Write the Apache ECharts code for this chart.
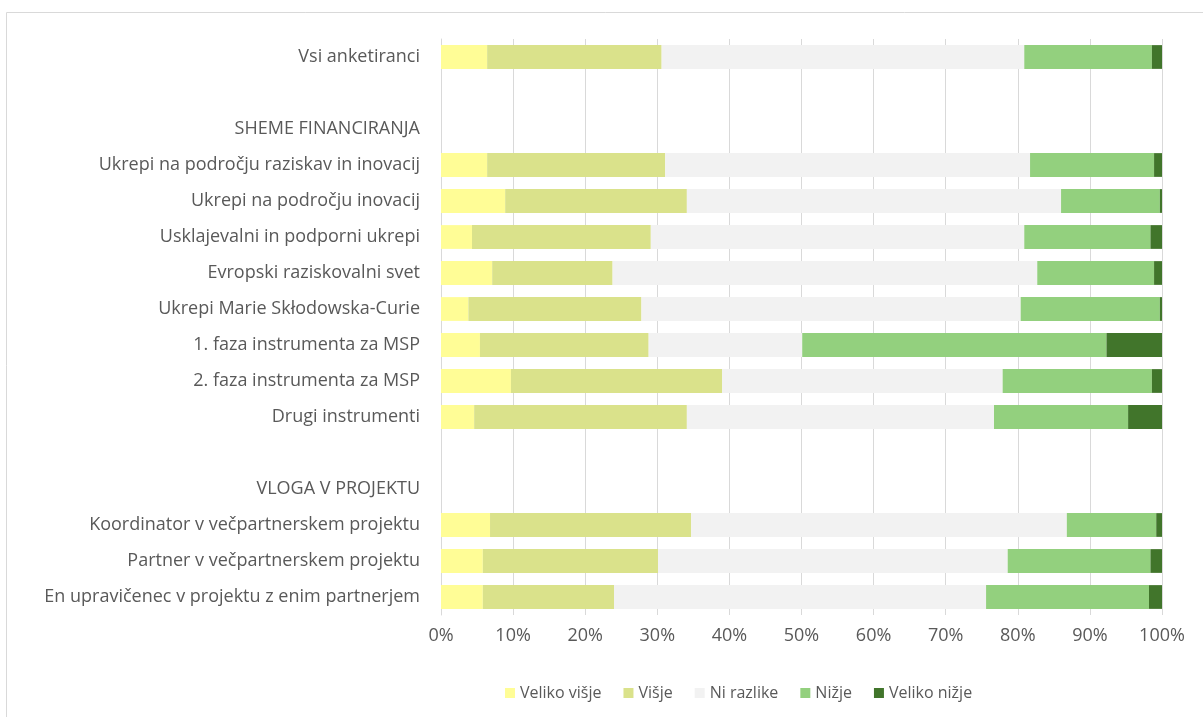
<!DOCTYPE html>
<html>
<head>
<meta charset="utf-8">
<script src="https://cdn.jsdelivr.net/npm/echarts@6/dist/echarts.min.js"></script>
<style>
html,body{margin:0;padding:0;background:#fff;}
#chart{width:1203px;height:717px;}
</style>
</head>
<body>
<div id="chart"></div>
<script>
var chart = echarts.init(document.getElementById('chart'));

// kategorije (prazne vrstice in naslovi skupin nimajo stolpcev)
var kategorije = ['Vsi anketiranci', ' ', 'SHEME FINANCIRANJA',
	'Ukrepi na področju raziskav in inovacij', 'Ukrepi na področju inovacij',
	'Usklajevalni in podporni ukrepi', 'Evropski raziskovalni svet',
	'Ukrepi Marie Skłodowska-Curie', '1. faza instrumenta za MSP',
	'2. faza instrumenta za MSP', 'Drugi instrumenti', '  ', 'VLOGA V PROJEKTU',
	'Koordinator v večpartnerskem projektu', 'Partner v večpartnerskem projektu',
	'En upravičenec v projektu z enim partnerjem'];

var velikoVisje = [6.4, null, null, 6.4, 8.9, 4.3, 7.1, 3.8, 5.4, 9.7, 4.6, null, null, 6.8, 5.8, 5.8];
var visje       = [24.2, null, null, 24.7, 25.2, 24.8, 16.7, 24.0, 23.4, 29.3, 29.5, null, null, 27.9, 24.3, 18.2];
var niRazlike   = [50.3, null, null, 50.6, 51.9, 51.8, 58.9, 52.6, 21.3, 38.9, 42.6, null, null, 52.1, 48.5, 51.6];
var nizje       = [17.7, null, null, 17.2, 13.7, 17.5, 16.2, 19.3, 42.2, 20.7, 18.6, null, null, 12.4, 19.8, 22.6];
var velikoNizje = [1.4, null, null, 1.1, 0.3, 1.6, 1.1, 0.3, 7.7, 1.4, 4.7, null, null, 0.8, 1.6, 1.8];

var imena = ['Veliko višje', 'Višje', 'Ni razlike', 'Nižje', 'Veliko nižje'];
var barve = ['#FFFD96', '#DAE28B', '#F2F2F2', '#93D07E', '#41752B'];
var podatki = [velikoVisje, visje, niRazlike, nizje, velikoNizje];

var font = 'Open Sans';

var serije = [];
for (var i = 0; i < imena.length; i++) {
	serije.push({
		name: imena[i],
		type: 'bar',
		stack: 'skupaj',
		barCategoryGap: '34%',
		itemStyle: { color: barve[i] },
		data: podatki[i]
	});
}

var option = {
	animation: false,
	color: barve,
	textStyle: { fontFamily: font },
	graphic: [{
		type: 'rect',
		shape: { x: 6.5, y: 12.5, width: 1210, height: 720 },
		style: { fill: 'none', stroke: '#D9D9D9', lineWidth: 1 },
		silent: true
	}],
	legend: {
		data: imena,
		left: 500,
		top: 680,
		itemWidth: 10,
		itemHeight: 10,
		itemGap: 22,
		icon: 'rect',
		textStyle: { color: '#595959', fontSize: 16, fontFamily: font }
	},
	grid: {
		left: 441,
		right: 41,
		top: 39,
		bottom: 102
	},
	xAxis: {
		type: 'value',
		min: 0,
		max: 100,
		interval: 10,
		axisLine: { show: false },
		axisTick: { show: false },
		splitLine: { lineStyle: { color: '#D9D9D9', width: 1 } },
		axisLabel: {
			color: '#595959',
			fontSize: 18,
			fontFamily: font,
			margin: 12,
			formatter: '{value}%'
		}
	},
	yAxis: {
		type: 'category',
		inverse: true,
		data: kategorije,
		axisLine: { lineStyle: { color: '#D9D9D9' } },
		axisTick: { show: false },
		axisLabel: {
			color: '#595959',
			fontSize: 18,
			fontFamily: font,
			margin: 21,
			interval: 0
		}
	},
	series: serije
};
chart.setOption(option);
</script>
</body>
</html>
